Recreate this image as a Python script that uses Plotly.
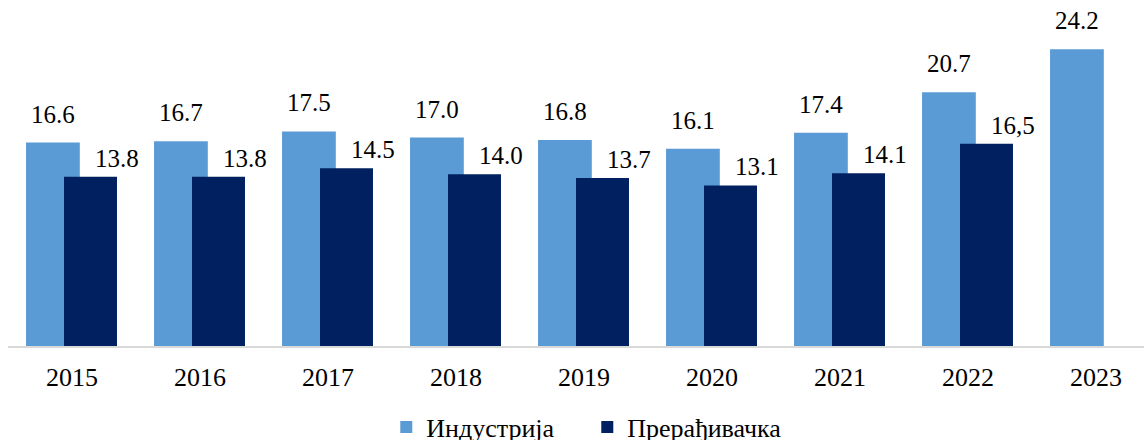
import plotly.graph_objects as go

years = ["2015", "2016", "2017", "2018", "2019", "2020", "2021", "2022", "2023"]
industrija = [16.6, 16.7, 17.5, 17.0, 16.8, 16.1, 17.4, 20.7, 24.2]
preradjivacka = [13.8, 13.8, 14.5, 14.0, 13.7, 13.1, 14.1, 16.5, None]
industrija_labels = ["16.6", "16.7", "17.5", "17.0", "16.8", "16.1", "17.4", "20.7", "24.2"]
preradjivacka_labels = ["13.8", "13.8", "14.5", "14.0", "13.7", "13.1", "14.1", "16,5", None]

LIGHT = "#5B9BD5"
DARK = "#002060"
FONT = "Liberation Serif"

LIGHT_OFFSET, LIGHT_WIDTH = -0.359, 0.42
DARK_OFFSET, DARK_WIDTH = -0.0625, 0.414

fig = go.Figure()
fig.add_trace(go.Bar(
    x=years, y=industrija, name="Индустрија",
    marker_color=LIGHT, marker_line_width=0,
    offset=LIGHT_OFFSET, width=LIGHT_WIDTH,
))
fig.add_trace(go.Bar(
    x=years, y=preradjivacka, name="Прерађивачка",
    marker_color=DARK, marker_line_width=0,
    offset=DARK_OFFSET, width=DARK_WIDTH,
))

# value labels: category axis takes numeric positions as category index
for i, (v, t) in enumerate(zip(industrija, industrija_labels)):
    fig.add_annotation(x=i + LIGHT_OFFSET + LIGHT_WIDTH / 2, y=v, text=t,
                       showarrow=False, xref="x", yref="y",
                       yanchor="bottom", yshift=13,
                       font=dict(family=FONT, size=25, color="#000000"))
for i, (v, t) in enumerate(zip(preradjivacka, preradjivacka_labels)):
    if v is None:
        continue
    fig.add_annotation(x=i + DARK_OFFSET + DARK_WIDTH / 2, y=v, text=t,
                       showarrow=False, xref="x", yref="y",
                       yanchor="bottom", xshift=26, yshift=3,
                       font=dict(family=FONT, size=25, color="#000000"))

fig.update_layout(
    width=1144, height=440,
    margin=dict(l=8, r=0, t=15, b=94, autoexpand=False),
    barmode="overlay",
    plot_bgcolor="white", paper_bgcolor="white",
    font=dict(family=FONT, size=25, color="#000000"),
    showlegend=True,
    legend=dict(orientation="h", x=0.333, xanchor="left", y=-0.245, yanchor="middle",
                font=dict(family=FONT, size=26), itemwidth=30, traceorder="normal",
                entrywidth=156),
    xaxis=dict(type="category", range=[-0.5, 8.375], showgrid=False, automargin=False,
               showline=True, linecolor="#D9D9D9", linewidth=2,
               ticks="outside", ticklen=7, tickcolor="rgba(0,0,0,0)",
               tickfont=dict(family=FONT, size=26)),
    yaxis=dict(range=[0, 27], showgrid=False, zeroline=False, showline=False,
               showticklabels=False, ticks="", automargin=False),
)

fig.write_html("out.html", config={"displayModeBar": False},
               post_script="document.body.style.margin='0';")
